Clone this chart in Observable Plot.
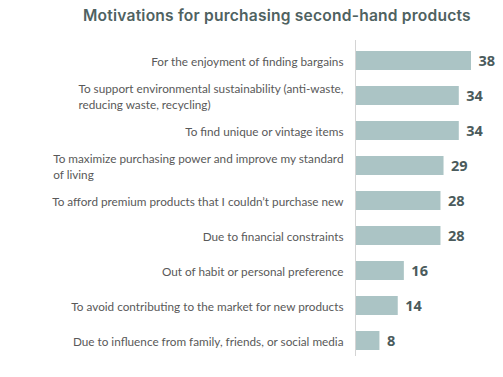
<!DOCTYPE html>
<html>
<head>
<meta charset="utf-8">
<script src="https://cdn.jsdelivr.net/npm/d3@7"></script>
<script src="https://cdn.jsdelivr.net/npm/@observablehq/plot@0.6"></script>
<style>
  html, body { margin: 0; padding: 0; background: #fff; }
  #title { height: 32px; line-height: 32px; padding-left: 83px; font-family: Inter, sans-serif; font-weight: 600; font-size: 15.6px; letter-spacing: 0.2px; color: #4f6261; white-space: nowrap; }
</style>
</head>
<body>
<div id="title">Motivations for purchasing second-hand products</div>
<div id="chart"></div>
<script>
const categories = [
  "For the enjoyment of finding bargains",
  "To support environmental sustainability (anti-waste,\nreducing waste, recycling)",
  "To find unique or vintage items",
  "To maximize purchasing power and improve my standard\nof living",
  "To afford premium products that I couldn\u2019t purchase new",
  "Due to financial constraints",
  "Out of habit or personal preference",
  "To avoid contributing to the market for new products",
  "Due to influence from family, friends, or social media"
];
const values = [38, 34, 34, 29, 28, 28, 16, 14, 8];

const data = categories.map((c, i) => ({category: c, value: values[i]}));

const chart = Plot.plot({
  width: 503,
  height: 345,
  marginLeft: 355,
  marginRight: 32,
  marginTop: 0,
  marginBottom: 9,
  x: {domain: [0, 38], axis: null},
  y: {domain: categories, padding: 0.46, axis: null},
  style: {background: "#fff"},
  marks: [
    Plot.barX(data, {x: "value", y: "category", fill: "#abc4c5"}),
    Plot.ruleX([0], {stroke: "#d4d4d4", strokeWidth: 1, insetTop: 8, insetBottom: 12}),
    Plot.text(data, {x: "value", y: "category", text: d => String(d.value), textAnchor: "start", dx: 7,
      fill: "#4b5b5c", fontWeight: "bold", fontSize: 14.5, fontFamily: "Open Sans, sans-serif"}),
    Plot.text(data, {x: 0, y: "category", text: "category", textAnchor: "end", dx: -12, lineHeight: 1.36,
      fill: "#595959", fontSize: 11.75, fontFamily: "Lato, sans-serif", className: "cat-labels"})
  ]
});
document.getElementById("chart").appendChild(chart);

// left-align wrapped label lines within their right-aligned block
chart.querySelectorAll(".cat-labels text").forEach(t => {
  const spans = t.querySelectorAll("tspan");
  if (spans.length > 1) {
    let w = 0;
    spans.forEach(s => { w = Math.max(w, s.getComputedTextLength()); });
    t.setAttribute("text-anchor", "start");
    spans.forEach(s => s.setAttribute("x", -w));
  }
});
</script>
</body>
</html>
